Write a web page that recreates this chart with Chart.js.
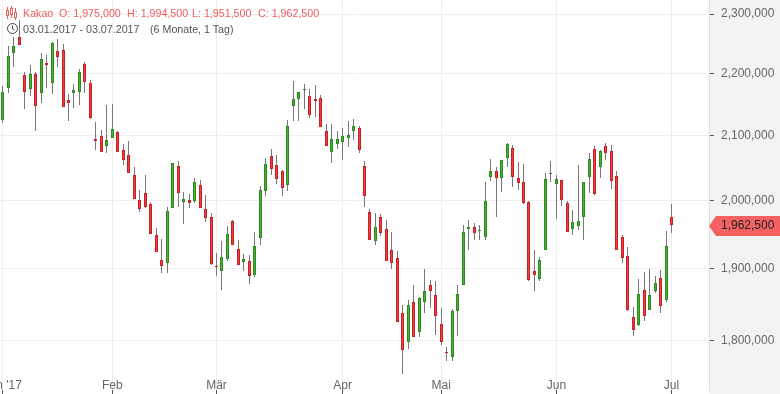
<!DOCTYPE html>
<html lang="de">
<head>
<meta charset="utf-8">
<title>Kakao</title>
<script src="https://cdn.jsdelivr.net/npm/chart.js@4"></script>
<style>
html,body{margin:0;padding:0;background:#fff;}
#wrap{position:relative;width:780px;height:394px;overflow:hidden;font-family:"Liberation Sans",Arial,sans-serif;}
#wrap canvas{position:absolute;left:0;top:0;}
.t{position:absolute;font-size:10.7px;line-height:14px;white-space:pre;}
.r{color:#f25c5c;top:6px;}
.g{color:#555;top:22px;}
svg{position:absolute;}
</style>
</head>
<body>
<div id="wrap">
<canvas id="c" width="780" height="394"></canvas>
<svg style="left:5px;top:6px" width="13" height="14" viewBox="0 0 13 14" fill="none" stroke="#e9605f" stroke-width="1">
<path d="M2.5 1v12M6.5 0v12M10.5 2v12"/>
<rect x="1.5" y="4.5" width="2" height="5" fill="#fff"/>
<rect x="5.5" y="2.5" width="2" height="6" fill="#fff"/>
<rect x="9.5" y="6.5" width="2" height="5" fill="#fff"/>
</svg>
<svg style="left:6px;top:22px" width="13" height="13" viewBox="0 0 13 13" fill="none" stroke="#444" stroke-width="1">
<circle cx="6.5" cy="6.5" r="5"/><path d="M6.5 3.5v3.2l2 1.3"/>
</svg>
<span class="t r" style="left:23px">Kakao</span>
<span class="t r" style="left:59px">O: 1,975,000</span>
<span class="t r" style="left:127px">H: 1,994,500</span>
<span class="t r" style="left:192px">L: 1,951,500</span>
<span class="t r" style="left:258px">C: 1,962,500</span>
<span class="t g" style="left:23px">03.01.2017 - 03.07.2017</span>
<span class="t g" style="left:150px">(6 Monate, 1 Tag)</span>
</div>
<script>
// Prices in thousands
const opens=[2124,2176,2234.5,2260.5,2197.5,2174,2199,2167.5,2217,2184,2237,2239,2156.5,2167.5,2169.5,2215.5,2184,2094,2099,2083,2096,2105,2077,2069,2038.5,2000.5,2011,1994.5,1948.5,1912.5,1908,1989,2052,1997.5,2000.5,1999,2023,1987,1975,1903.5,1896.5,1913.5,1969,1928,1909.5,1911,1891,1944,2014,2067.5,2053.5,2044.5,2023,2146.5,2158,2172.5,2163,2158,2159.5,2107,2074,2086.5,2089.5,2096,2107,2111.5,2052,1982.5,1940,1975,1957.5,1927,1915,1838,1798,1853,1811.5,1853,1877,1863,1822.5,1784.5,1778,1840.5,1877,1957.5,1960.5,1954.5,1945.5,2035.5,2044.5,2034,2064.5,2080,2034,2027.5,1997.5,1896.5,1885,1927,2040,2024.5,2030.5,1996,1957.5,1962,1975,2035.5,2078.5,2050.5,2083,2075.5,2037,1945.5,1918,1832.5,1821.5,1870,1842,1868.5,1886.5,1855.5,1975];
const highs=[2179,2245.5,2261.5,2290.5,2202,2214,2202,2234,2230.5,2252.5,2257.5,2249,2166,2182.5,2207,2218,2189,2121,2108.5,2148.5,2150,2107,2086.5,2091,2050.5,2015.5,2038.5,1997.5,1959,1942.5,1990,2057,2060,2012.5,2009.5,2034,2030.5,2008,1981,1922.5,1940,1962,1970.5,1941.5,1921,1919.5,1953,2021.5,2064.5,2078.5,2069,2046,2124,2187.5,2169.5,2182.5,2174,2181,2164.5,2118,2118,2107,2111.5,2122.5,2126,2114.5,2060,1987,1981,1979.5,1970.5,1953,1925.5,1849,1855.5,1877,1860,1899.5,1884,1882.5,1844.5,1791.5,1843.5,1877,1963,1970.5,1966,1963,2027.5,2063,2050.5,2061.5,2088,2085,2058.5,2055,1999,1927,1916.5,2041.5,2060,2038.5,2030.5,1999,1985.5,2053.5,2027.5,2072.5,2083,2077,2088,2085,2044.5,1948.5,1931,1846,1885,1895,1899.5,1889.5,1898,1954.5,1994.5];
const lows=[2120,2168,2211,2247.5,2142.5,2163,2107,2152,2176,2166,2210.5,2145,2122.5,2143.5,2148.5,2167.5,2126,2077,2074,2072.5,2096,2074,2053.5,2041.5,2002,1982.5,1988.5,1950,1924,1893.5,1893.5,1989,1990.5,1964.5,1988.5,1996,1988.5,1967.5,1905,1889.5,1870,1911,1934,1905,1896.5,1878,1888,1934,2006.5,2038.5,2024.5,2006.5,2014,2122.5,2122.5,2142,2127.5,2129,2113,2083,2057,2078.5,2061.5,2081.5,2092.5,2072.5,1990,1941.5,1934,1947,1911,1899.5,1825.5,1755.5,1788.5,1805,1805,1838,1844.5,1807.5,1794,1772.5,1772.5,1806,1877,1927,1941.5,1941.5,1941.5,2029,1975,2012.5,2050.5,2020,2015.5,1994.5,1882.5,1868.5,1882.5,1927,2027.5,1972,1991.5,1953,1948.5,1956,1941.5,2011,2008,2034,2061.5,2017,1927,1908,1840.5,1806,1820,1826.5,1842,1865.5,1838,1853,1951.5];
const closes=[2169.5,2229,2245.5,2248,2169.5,2199,2147,2224,2214,2250.5,2227,2145,2151.5,2172.5,2202,2185.5,2127.5,2091,2074,2092.5,2110,2074,2061.5,2041.5,2002,1987,1990,1950,1924,1903.5,1983.5,2056.5,2011.5,2002,1996,2027.5,1988.5,1973.5,1906.5,1902.5,1916.5,1950,1934,1905,1913.5,1889.5,1932.5,2015.5,2055,2047.5,2032,2018.5,2114.5,2158,2169.5,2174,2132,2155,2113,2083,2094,2094,2099,2100.5,2114.5,2077,2006.5,1941.5,1960.5,1951.5,1911,1908,1825.5,1787.5,1849,1805,1858.5,1868.5,1868.5,1833.5,1798,1783.5,1840.5,1864,1953,1960.5,1951.5,1956,1999,2044.5,2034,2061.5,2086.5,2035.5,2026,1996,1884,1891,1912.5,2032,2041.5,2032,2000.5,1953,1967.5,1969,2027.5,2063,2009.5,2075.5,2072.5,2029,1927,1915,1842,1814.5,1864,1833.5,1863,1879.5,1847.5,1932.5,1962.5];
const priceUnit=1000;
const monthIndex=[0,20,39,62,80,101,122];
const monthLabels=["Jan '17","Feb","Mär","Apr","Mai","Jun","Jul"];
const priceTicks=[1800000,1900000,2000000,2100000,2200000,2300000];

const fmt=v=>Number(v).toLocaleString('en-US');
const up=closes.map((c,i)=>c>=opens[i]);
const bodies=opens.map((o,i)=>({x:i,y:[o*priceUnit,closes[i]*priceUnit]}));
const wicks=lows.map((l,i)=>({x:i,y:[l*priceUnit,highs[i]*priceUnit]}));

const snap={id:'snap',afterDatasetsUpdate(ch){
  ch.data.datasets.forEach((d,k)=>{
    ch.getDatasetMeta(k).data.forEach(el=>{
      el.x=Math.floor(el.x)+0.5;
      const a=Math.round(Math.min(el.y,el.base)),b=Math.round(Math.max(el.y,el.base));
      el.y=a;el.base=Math.max(b,a+1);
    });
  });
}};
const panel={id:'panel',beforeDraw(ch){
  const c=ch.ctx,a=ch.chartArea;
  c.save();c.fillStyle='#f3f3f3';c.fillRect(a.right,0,ch.width-a.right,ch.height);c.restore();
},afterDraw(ch){
  const c=ch.ctx,a=ch.chartArea,y=Math.round(ch.scales.y.getPixelForValue(closes[closes.length-1]*priceUnit))+1;
  c.save();
  c.fillStyle='#f46161';
  c.beginPath();c.moveTo(a.right,y);c.lineTo(a.right+7,y-10);c.lineTo(ch.width,y-10);c.lineTo(ch.width,y+10);c.lineTo(a.right+7,y+10);c.closePath();c.fill();
  c.fillStyle='#222';c.font='12px "Liberation Sans",Arial,sans-serif';c.textBaseline='middle';c.textAlign='left';
  c.fillText(fmt(closes[closes.length-1]*priceUnit),a.right+12,y);
  c.restore();
}};

new Chart(document.getElementById('c'),{
  type:'bar',
  data:{datasets:[
    {data:bodies,grouped:false,barThickness:3,borderWidth:1,inflateAmount:0,borderSkipped:false,
     backgroundColor:up.map(u=>u?'#48b52c':'#ee4040'),
     borderColor:up.map(u=>u?'#2b8a22':'#c92025')},
    {data:wicks,grouped:false,barThickness:1,borderWidth:0,inflateAmount:0,backgroundColor:'#777777'}
  ]},
  plugins:[snap,panel],
  options:{
    responsive:false,animation:false,events:[],
    layout:{padding:0},
    plugins:{legend:{display:false},title:{display:false},tooltip:{enabled:false}},
    scales:{
      x:{type:'linear',position:'bottom',offset:false,min:-0.4925,max:128.84,
        afterBuildTicks:s=>{s.ticks=monthIndex.map(v=>({value:v}));},
        afterFit:s=>{s.height=4;s.paddingLeft=0;s.paddingRight=0;},
        grid:{offset:false,color:'#eeeeee',lineWidth:1,tickColor:'#555',tickLength:4},
        border:{display:false},
        ticks:{autoSkip:false,maxRotation:0,minRotation:0,mirror:true,padding:-3,color:'#666',
          font:{family:'"Liberation Sans",Arial,sans-serif',size:12},
          callback:v=>monthLabels[monthIndex.indexOf(v)]}},
      y:{type:'logarithmic',position:'right',min:1734500,max:2324500,
        afterBuildTicks:s=>{s.ticks=priceTicks.map(v=>({value:v}));},
        afterFit:s=>{s.width=71;s.paddingTop=0;s.paddingBottom=0;},
        grid:{color:'#eeeeee',lineWidth:1,tickColor:'#555',tickLength:5},
        border:{display:true,color:'#dddddd',width:1},
        ticks:{padding:7,color:'#666',autoSkip:false,
          font:{family:'"Liberation Sans",Arial,sans-serif',size:12},
          callback:v=>fmt(v)}}
    }
  }
});
</script>
</body>
</html>
